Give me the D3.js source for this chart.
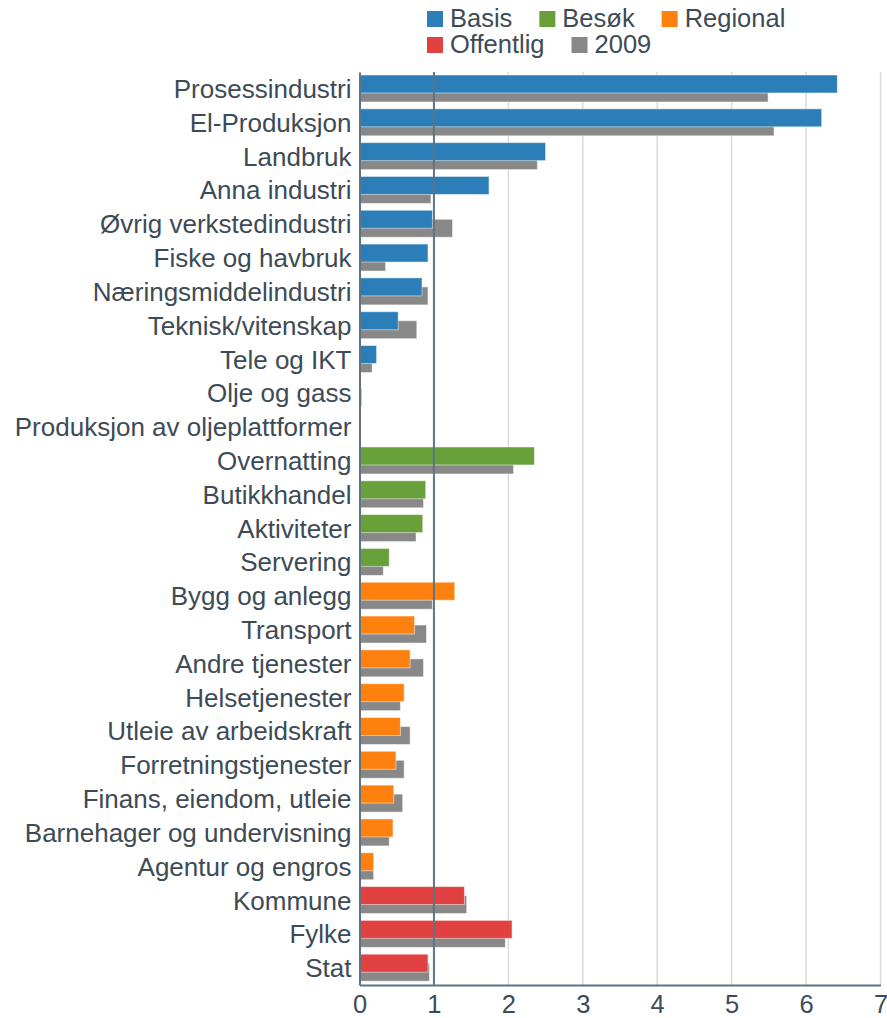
<!DOCTYPE html>
<html>
<head>
<meta charset="utf-8">
<script src="https://cdn.jsdelivr.net/npm/d3@7"></script>
<style>
  body { margin: 0; background: #fff; }
  text { font-family: "Liberation Sans", Arial, sans-serif; fill: #3d4b56; }
</style>
</head>
<body>
<script>
// categories, top to bottom
var categories = ["Prosessindustri", "El-Produksjon", "Landbruk", "Anna industri",
  "Øvrig verkstedindustri", "Fiske og havbruk", "Næringsmiddelindustri", "Teknisk/vitenskap",
  "Tele og IKT", "Olje og gass", "Produksjon av oljeplattformer",
  "Overnatting", "Butikkhandel", "Aktiviteter", "Servering",
  "Bygg og anlegg", "Transport", "Andre tjenester", "Helsetjenester",
  "Utleie av arbeidskraft", "Forretningstjenester", "Finans, eiendom, utleie",
  "Barnehager og undervisning", "Agentur og engros",
  "Kommune", "Fylke", "Stat"];

// which sector each category belongs to
var sectors = ["Basis", "Basis", "Basis", "Basis", "Basis", "Basis", "Basis", "Basis",
  "Basis", "Basis", "Basis",
  "Besøk", "Besøk", "Besøk", "Besøk",
  "Regional", "Regional", "Regional", "Regional", "Regional", "Regional", "Regional",
  "Regional", "Regional",
  "Offentlig", "Offentlig", "Offentlig"];

var values = [6.42, 6.21, 2.50, 1.74, 0.98, 0.92, 0.84, 0.52, 0.23, 0, 0,
  2.35, 0.89, 0.85, 0.40,
  1.28, 0.74, 0.68, 0.60, 0.55, 0.49, 0.46, 0.45, 0.19,
  1.41, 2.05, 0.92];

var values2009 = [5.49, 5.57, 2.39, 0.96, 1.25, 0.35, 0.92, 0.77, 0.17, 0.03, 0,
  2.07, 0.86, 0.76, 0.32,
  0.98, 0.90, 0.86, 0.55, 0.68, 0.60, 0.58, 0.40, 0.19,
  1.44, 1.96, 0.94];

var legendNames = ["Basis", "Besøk", "Regional", "Offentlig", "2009"];
var xTicks = [0, 1, 2, 3, 4, 5, 6, 7];

var width = 887, height = 1018;
var margin = {top: 72, right: 6.5, bottom: 33, left: 359.5};

var color = d3.scaleOrdinal()
    .domain(legendNames)
    .range(["#2b7eb8", "#68a03a", "#fe800f", "#e24142", "#888888"]);

var svg = d3.select("body").append("svg")
    .attr("width", width)
    .attr("height", height);

var x = d3.scaleLinear()
    .domain([0, 7])
    .range([margin.left, width - margin.right]);

var y = d3.scaleBand()
    .domain(categories)
    .range([margin.top, height - margin.bottom])
    .padding(0);

// gridlines
svg.append("g").selectAll("line")
    .data(xTicks.filter(function(d) { return d > 1; }))
    .enter().append("line")
    .attr("x1", function(d) { return x(d); })
    .attr("x2", function(d) { return x(d); })
    .attr("y1", margin.top)
    .attr("y2", height - margin.bottom)
    .style("stroke", "#d6dce0")
    .style("stroke-width", 1.5);

var rows = svg.append("g").selectAll("g")
    .data(categories)
    .enter().append("g");

// 2009 bars behind
rows.append("rect")
    .attr("x", x(0))
    .attr("y", function(d) { return y(d) + 12; })
    .attr("width", function(d, i) { return x(values2009[i]) - x(0); })
    .attr("height", 18)
    .style("fill", color("2009"))
    .style("stroke", "#fff")
    .style("stroke-opacity", 0.5)
    .style("stroke-width", 1);

rows.append("rect")
    .attr("x", x(0))
    .attr("y", function(d) { return y(d) + 3; })
    .attr("width", function(d, i) { return x(values[i]) - x(0); })
    .attr("height", 18)
    .style("fill", function(d, i) { return color(sectors[i]); })
    .style("stroke", "#fff")
    .style("stroke-opacity", 0.5)
    .style("stroke-width", 1);

// reference line at 1
svg.append("line")
    .attr("x1", x(1)).attr("x2", x(1))
    .attr("y1", margin.top).attr("y2", height - margin.bottom)
    .style("stroke", "#5d7484")
    .style("stroke-width", 2);

// x axis
var xAxis = svg.append("g")
    .attr("transform", "translate(0," + (height - margin.bottom) + ")")
    .call(d3.axisBottom(x).tickValues(xTicks).tickSize(0).tickPadding(10).tickFormat(d3.format("d")));
xAxis.select(".domain").style("stroke", "#5d7484").style("stroke-width", 2);
xAxis.selectAll("text")
    .style("font-size", "25.5px")
    .attr("fill", "#3d4b56");

// y axis
var yAxis = svg.append("g")
    .attr("transform", "translate(" + margin.left + ",0)")
    .call(d3.axisLeft(y).tickSize(0).tickPadding(8));
yAxis.select(".domain").style("stroke", "#5d7484").style("stroke-width", 2);
yAxis.selectAll("text")
    .style("font-size", "26px")
    .attr("dy", "0.35em")
    .attr("fill", "#3d4b56");

// legend, two rows
var legendRows = [["Basis", "Besøk", "Regional"], ["Offentlig", "2009"]];
legendRows.forEach(function(names, r) {
    var lx = 427;
    var ly = 27 + r * 26;
    names.forEach(function(name) {
        svg.append("rect")
            .attr("x", lx)
            .attr("y", ly - 16)
            .attr("width", 16)
            .attr("height", 16)
            .style("fill", color(name));
        var t = svg.append("text")
            .attr("x", lx + 23)
            .attr("y", ly)
            .style("font-size", "25.5px")
            .text(name);
        lx = lx + 23 + t.node().getComputedTextLength() + 27;
    });
});
</script>
</body>
</html>
